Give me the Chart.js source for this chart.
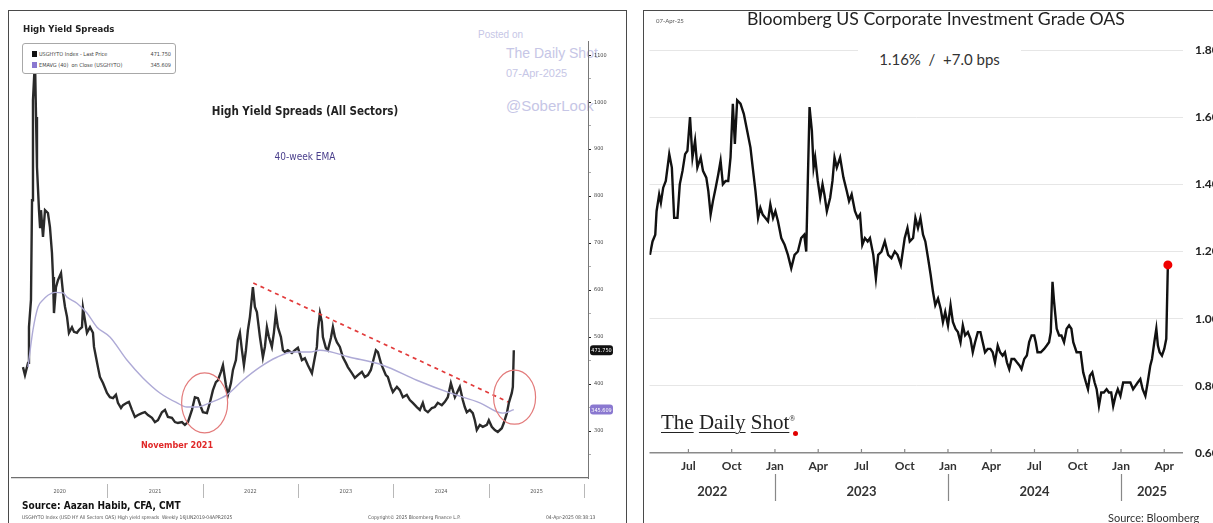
<!DOCTYPE html>
<html>
<head>
<meta charset="utf-8">
<script src="https://cdn.jsdelivr.net/npm/chart.js@4.4.1/dist/chart.umd.min.js"></script>
<style>
  html, body { margin: 0; padding: 0; background: #fff; }
  body { position: relative; width: 1213px; height: 523px; overflow: hidden; }
  .abs { position: absolute; white-space: nowrap; line-height: 1; z-index: 3; }
  .frame { position: absolute; border: 1.5px solid #4a4a4a; box-sizing: border-box; z-index: 5; }
  canvas { position: absolute; z-index: 2; }
  .bb { font-family: 'DejaVu Sans Condensed', 'DejaVu Sans', sans-serif; }
  .cal { font-family: Lato, 'Open Sans', sans-serif; }
  .wm { position: absolute; white-space: nowrap; line-height: 1; z-index: 1; color: #c6c6e6; font-family: 'Liberation Sans', Arial, sans-serif; }
  #legend { position: absolute; left: 22px; top: 43px; width: 154px; height: 31px; border: 1px solid #a8a8a8; border-radius: 3px; box-sizing: border-box; z-index: 3; background: #fff; font: 5.5px 'DejaVu Sans Condensed', 'DejaVu Sans', sans-serif; color: #444; }
  #legend .row { position: absolute; left: 9px; right: 4px; height: 7px; line-height: 7px; }
  #legend .sw { display: inline-block; width: 5px; height: 6px; vertical-align: middle; margin-right: 2px; }
  #legend .val { position: absolute; right: 0; top: 0; }
  .logo span.u { text-decoration: underline; text-decoration-thickness: 1px; text-underline-offset: 3px; }
</style>
</head>
<body>

<div class="frame" style="left:8px; top:10px; width:619px; height:540px;"></div>
<div class="frame" style="left:643px; top:10px; width:600px; height:540px;"></div>

<!-- left panel texts -->
<div class="abs bb" style="left:23px; top:24px; font-size:9.5px; font-weight:bold; color:#222;">High Yield Spreads</div>
<div id="legend">
  <div class="row" style="top:7px;"><span class="sw" style="background:#111;"></span>USGHYTO Index - Last Price<span class="val">471.750</span></div>
  <div class="row" style="top:18px;"><span class="sw" style="background:#8a78d0;"></span>EMAVG (40)&nbsp; on Close (USGHYTO)<span class="val">345.609</span></div>
</div>
<div class="abs bb" style="left:155px; width:300px; text-align:center; top:106px; font-size:11.5px; font-weight:bold; color:#222;">High Yield Spreads (All Sectors)</div>
<div class="abs bb" style="left:205px; width:200px; text-align:center; top:152px; font-size:10px; color:#4a3f8c;">40-week EMA</div>
<div class="wm" style="left:478px; top:30px; font-size:10px;">Posted on</div>
<div class="wm" style="left:506px; top:46px; font-size:14px;">The Daily Shot</div>
<div class="wm" style="left:506px; top:68px; font-size:11px;">07-Apr-2025</div>
<div class="wm" style="left:506px; top:98px; font-size:15px;">@SoberLook</div>
<div class="abs bb" style="left:22px; top:501px; font-size:10px; font-weight:bold; color:#111;">Source: Aazan Habib, CFA, CMT</div>
<div class="abs bb" style="left:22px; top:515px; font-size:5px; color:#555;">USGHYTO Index (USD HY All Sectors OAS) High yield spreads&nbsp; Weekly 16JUN2019-04APR2025</div>
<div class="abs bb" style="left:368px; top:515px; font-size:5px; color:#555;">Copyright&copy; 2025 Bloomberg Finance L.P.</div>
<div class="abs bb" style="left:546px; top:515px; font-size:5px; color:#555;">04-Apr-2025 08:38:13</div>

<!-- right panel texts -->
<div class="abs cal" style="left:656px; top:18px; font-size:6px; color:#555;">07-Apr-25</div>
<div class="abs cal" style="left:686px; width:500px; text-align:center; top:10px; font-size:17.7px; color:#222;">Bloomberg US Corporate Investment Grade OAS</div>
<div class="abs cal" style="left:858px; width:163px; top:48px; height:22px; line-height:22px; text-align:center; background:#fff; font-size:15px; color:#333;">1.16%&nbsp; /&nbsp; +7.0 bps</div>
<div class="abs logo" style="left:661px; top:412px; font-family:'Liberation Serif','DejaVu Serif',serif; font-size:21px; color:#222;"><span class="u">The</span> <span class="u">Daily</span> <span class="u">Shot</span><sup style="font-size:8px;">&reg;</sup></div>
<div class="abs" style="left:793px; top:431px; width:5px; height:5px; border-radius:50%; background:#e00000;"></div>
<div class="abs cal" style="left:1108px; top:512px; font-size:11px; color:#333;">Source: Bloomberg</div>

<canvas id="hyChart" width="614" height="511" style="left:10px; top:12px;"></canvas>
<canvas id="oasChart" width="568" height="511" style="left:645px; top:12px;"></canvas>

<script>
// ---- High yield spreads, weekly (bps), [year, value]
const hyPrice = [
  [2020.115,436],[2020.136,419],[2020.168,445],[2020.178,521],[2020.199,579],[2020.210,791],[2020.220,1004],[2020.241,1090],
  [2020.252,968],[2020.262,862],[2020.283,770],[2020.294,734],[2020.304,770],[2020.325,713],[2020.346,770],[2020.377,764],
  [2020.398,734],[2020.419,679],[2020.430,628],[2020.440,551],[2020.461,606],[2020.482,621],[2020.514,636],[2020.535,594],
  [2020.556,564],[2020.577,543],[2020.597,509],[2020.629,521],[2020.650,511],[2020.681,509],[2020.702,515],[2020.734,521],
  [2020.744,562],[2020.765,536],[2020.786,509],[2020.818,521],[2020.849,509],[2020.860,479],[2020.881,457],[2020.901,436],
  [2020.922,415],[2020.954,402],[2020.996,381],[2021.027,372],[2021.059,370],[2021.090,377],[2021.111,360],[2021.143,349],
  [2021.164,355],[2021.205,360],[2021.226,362],[2021.258,345],[2021.289,330],[2021.321,334],[2021.363,338],[2021.394,340],
  [2021.426,334],[2021.468,328],[2021.499,319],[2021.530,323],[2021.572,340],[2021.604,345],[2021.635,330],[2021.677,328],
  [2021.709,319],[2021.740,317],[2021.782,319],[2021.813,313],[2021.845,319],[2021.887,345],[2021.918,372],[2021.950,370],
  [2021.981,351],[2022.002,340],[2022.044,338],[2022.075,360],[2022.107,387],[2022.138,404],[2022.159,408],[2022.191,426],
  [2022.212,440],[2022.243,398],[2022.264,377],[2022.296,402],[2022.317,430],[2022.348,451],[2022.369,494],[2022.390,509],
  [2022.411,472],[2022.432,440],[2022.453,472],[2022.474,515],[2022.495,543],[2022.516,585],[2022.526,606],[2022.547,564],
  [2022.568,553],[2022.600,500],[2022.631,457],[2022.652,479],[2022.673,521],[2022.694,500],[2022.725,479],[2022.746,509],
  [2022.767,551],[2022.788,521],[2022.820,500],[2022.841,472],[2022.862,468],[2022.893,472],[2022.935,466],[2022.966,472],
  [2022.998,477],[2023.040,451],[2023.071,455],[2023.103,440],[2023.145,423],[2023.176,457],[2023.197,479],[2023.208,515],
  [2023.229,551],[2023.249,532],[2023.260,500],[2023.291,477],[2023.312,472],[2023.344,498],[2023.365,521],[2023.386,500],
  [2023.407,489],[2023.438,479],[2023.470,457],[2023.501,445],[2023.522,436],[2023.564,423],[2023.595,413],[2023.627,419],
  [2023.669,426],[2023.700,415],[2023.732,419],[2023.763,430],[2023.784,447],[2023.816,472],[2023.837,468],[2023.868,445],
  [2023.889,434],[2023.920,419],[2023.941,415],[2023.973,394],[2023.994,383],[2024.036,394],[2024.067,387],[2024.099,372],
  [2024.140,377],[2024.172,366],[2024.203,360],[2024.245,351],[2024.277,345],[2024.308,360],[2024.329,345],[2024.361,340],
  [2024.403,349],[2024.434,351],[2024.465,360],[2024.507,355],[2024.539,362],[2024.570,372],[2024.602,402],[2024.623,387],
  [2024.644,372],[2024.665,381],[2024.696,394],[2024.727,366],[2024.748,351],[2024.769,340],[2024.801,345],[2024.832,338],
  [2024.853,323],[2024.874,302],[2024.906,313],[2024.937,309],[2024.979,313],[2025.000,323],[2025.031,309],[2025.063,302],
  [2025.094,298],[2025.136,306],[2025.157,317],[2025.189,338],[2025.210,360],[2025.241,381],[2025.252,394],[2025.262,471.75]
];
const hyEma = [
  [2020.168,436],[2020.220,515],[2020.273,564],[2020.325,579],[2020.377,589],[2020.451,595],[2020.535,594],[2020.577,585],
  [2020.681,572],[2020.786,551],[2020.891,521],[2021.027,500],[2021.205,451],[2021.373,413],[2021.551,381],[2021.730,360],
  [2021.834,351],[2021.939,351],[2022.075,360],[2022.254,377],[2022.421,408],[2022.600,436],[2022.778,457],[2022.945,468],
  [2023.124,468],[2023.229,472],[2023.543,457],[2023.889,440],[2024.245,408],[2024.591,381],[2024.906,360],[2025.147,338],
  [2025.262,345.609]
];
const hyTrend = [[2022.53, 615], [2025.20, 362]];
const hyYearTicks = [2020.5, 2021.5, 2022.5, 2023.5, 2024.5, 2025.5];
const hyYearBounds = [2021, 2022, 2023, 2024, 2025, 2026];
const hyAxisTicks = [250, 300, 350, 400, 450, 500, 550, 600, 650, 700, 750, 800, 850, 900, 950, 1000, 1050, 1100];
const hyCircles = [[2022.02, 360], [2025.27, 372]];
const hyNote = [2021.73, 268, 'November 2021'];

// ---- Bloomberg US IG OAS (%), [months since Jan 2022, value]
const oasSeries = [
  [3.33,1.19],[3.51,1.23],[3.70,1.25],[3.79,1.32],[3.97,1.37],[4.09,1.345],[4.25,1.39],[4.43,1.41],[4.67,1.49],[4.85,1.45],
  [5.01,1.30],[5.24,1.30],[5.40,1.40],[5.59,1.44],[5.77,1.49],[5.93,1.50],[6.11,1.60],[6.28,1.48],[6.46,1.53],[6.62,1.45],
  [6.85,1.48],[7.01,1.44],[7.24,1.42],[7.38,1.38],[7.54,1.31],[7.70,1.35],[7.89,1.39],[8.07,1.43],[8.23,1.47],[8.39,1.40],
  [8.58,1.41],[8.76,1.41],[8.92,1.48],[9.08,1.64],[9.22,1.52],[9.38,1.65],[9.61,1.64],[9.84,1.61],[10.07,1.56],[10.30,1.51],
  [10.46,1.45],[10.65,1.38],[10.83,1.30],[10.99,1.33],[11.15,1.31],[11.34,1.30],[11.52,1.29],[11.68,1.34],[11.87,1.30],[12.03,1.32],
  [12.21,1.29],[12.44,1.24],[12.67,1.22],[12.90,1.19],[13.13,1.15],[13.36,1.19],[13.59,1.20],[13.82,1.24],[14.03,1.25],[14.17,1.20],
  [14.28,1.41],[14.40,1.63],[14.56,1.56],[14.68,1.45],[14.79,1.48],[14.97,1.41],[15.14,1.36],[15.30,1.40],[15.43,1.37],[15.60,1.32],
  [15.83,1.36],[15.99,1.41],[16.13,1.48],[16.29,1.45],[16.52,1.48],[16.75,1.42],[16.98,1.38],[17.14,1.35],[17.32,1.37],[17.55,1.32],
  [17.74,1.30],[17.90,1.31],[18.06,1.22],[18.24,1.24],[18.43,1.23],[18.59,1.24],[18.82,1.19],[19.00,1.12],[19.16,1.19],[19.39,1.20],
  [19.62,1.23],[19.85,1.19],[20.08,1.18],[20.31,1.20],[20.50,1.19],[20.73,1.16],[21.00,1.24],[21.19,1.27],[21.35,1.23],[21.58,1.24],
  [21.74,1.30],[21.92,1.27],[22.09,1.30],[22.27,1.25],[22.43,1.23],[22.62,1.18],[22.80,1.13],[22.96,1.08],[23.12,1.04],[23.31,1.06],
  [23.49,1.03],[23.65,0.99],[23.81,1.02],[24.00,0.98],[24.18,1.04],[24.34,0.99],[24.52,0.97],[24.69,0.96],[24.87,0.93],[25.03,0.98],
  [25.19,0.95],[25.38,0.96],[25.56,0.94],[25.72,0.90],[25.88,0.93],[26.07,0.96],[26.25,0.96],[26.41,0.93],[26.57,0.90],[26.76,0.91],
  [26.94,0.91],[27.10,0.90],[27.26,0.87],[27.45,0.92],[27.61,0.90],[27.79,0.89],[27.95,0.90],[28.09,0.87],[28.25,0.85],[28.41,0.88],
  [28.60,0.88],[28.78,0.87],[28.97,0.86],[29.10,0.85],[29.29,0.88],[29.47,0.89],[29.63,0.93],[29.80,0.95],[29.98,0.95],[30.09,0.93],
  [30.21,0.90],[30.44,0.90],[30.67,0.91],[30.85,0.92],[31.01,0.93],[31.13,0.96],[31.25,1.11],[31.36,1.05],[31.54,0.97],[31.71,0.95],
  [31.87,0.95],[32.05,0.93],[32.23,0.97],[32.40,0.98],[32.56,0.97],[32.69,0.93],[32.92,0.90],[33.20,0.90],[33.38,0.84],[33.57,0.81],
  [33.71,0.79],[33.84,0.83],[34.01,0.84],[34.17,0.81],[34.31,0.79],[34.47,0.74],[34.63,0.78],[34.81,0.78],[35.00,0.79],[35.16,0.78],
  [35.32,0.78],[35.46,0.74],[35.62,0.77],[35.78,0.79],[35.96,0.77],[36.15,0.81],[36.31,0.81],[36.47,0.81],[36.65,0.81],[36.84,0.79],
  [37.00,0.80],[37.16,0.81],[37.34,0.82],[37.50,0.79],[37.69,0.77],[37.85,0.81],[38.03,0.86],[38.15,0.88],[38.31,0.93],[38.45,0.97],
  [38.56,0.92],[38.68,0.90],[38.84,0.89],[39.00,0.91],[39.14,0.94],[39.25,1.16]
];
const oasTickMonths = [6, 9, 12, 15, 18, 21, 24, 27, 30, 33, 36, 39];
const oasTickLabels = ['Jul', 'Oct', 'Jan', 'Apr', 'Jul', 'Oct', 'Jan', 'Apr', 'Jul', 'Oct', 'Jan', 'Apr'];
const oasAxisTicks = [0.6, 0.8, 1.0, 1.2, 1.4, 1.6, 1.8];
const oasYearStarts = [0, 12, 24, 36];
const oasYearLabels = ['2022', '2023', '2024', '2025'];

const bbFont = "'DejaVu Sans Condensed', 'DejaVu Sans', sans-serif";
const calFont = "Lato, 'Open Sans', sans-serif";
const toXY = (pairs) => pairs.map(([x, y]) => ({ x, y }));

const hyDeco = {
  id: 'hyDeco',
  afterDatasetsDraw(chart) {
    const { ctx, scales: { x, y } } = chart;
    ctx.save();
    ctx.strokeStyle = '#e37b7b';
    ctx.lineWidth = 1.2;
    const sizes = [[23, 30], [21, 27]];
    hyCircles.forEach(([cx, cy], i) => {
      ctx.beginPath();
      ctx.ellipse(x.getPixelForValue(cx), y.getPixelForValue(cy), sizes[i][0], sizes[i][1], 0, 0, Math.PI * 2);
      ctx.stroke();
    });
    ctx.fillStyle = '#e02828';
    ctx.font = 'bold 9px ' + bbFont;
    ctx.textAlign = 'center';
    ctx.textBaseline = 'middle';
    ctx.fillText(hyNote[2], x.getPixelForValue(hyNote[0]), y.getPixelForValue(hyNote[1]));
    ctx.restore();
  },
  afterDraw(chart) {
    const { ctx, scales: { x, y } } = chart;
    ctx.save();
    // year separators under the axis
    ctx.strokeStyle = '#b8b8b8';
    ctx.lineWidth = 1;
    hyYearBounds.forEach((v) => {
      const px = Math.round(x.getPixelForValue(v)) + 0.5;
      ctx.beginPath();
      ctx.moveTo(px, 472);
      ctx.lineTo(px, 486);
      ctx.stroke();
    });
    // last value boxes on the axis
    const boxes = [
      [hyPrice[hyPrice.length - 1][1], '#111'],
      [hyEma[hyEma.length - 1][1], '#8a78d0'],
    ];
    ctx.font = '5.5px ' + bbFont;
    ctx.textAlign = 'center';
    ctx.textBaseline = 'middle';
    boxes.forEach(([v, col]) => {
      const py = y.getPixelForValue(v);
      const left = chart.chartArea.right + 2;
      ctx.fillStyle = col;
      ctx.beginPath();
      ctx.roundRect(left, py - 5, 23, 10, 3);
      ctx.fill();
      ctx.fillStyle = '#fff';
      ctx.fillText(v.toFixed(3), left + 11.5, py + 0.5);
    });
    ctx.restore();
  },
};

new Chart(document.getElementById('hyChart'), {
  type: 'line',
  data: {
    datasets: [
      { data: toXY(hyTrend), borderColor: '#e23b3b', borderWidth: 1.7, borderDash: [4, 4], pointRadius: 0 },
      { data: toXY(hyEma), borderColor: '#aeaad6', borderWidth: 1.4, pointRadius: 0, cubicInterpolationMode: 'monotone' },
      { data: toXY(hyPrice), borderColor: '#2a2a2a', borderWidth: 2.4, pointRadius: 0, tension: 0 },
    ],
  },
  options: {
    responsive: false,
    animation: false,
    layout: { padding: { left: 2, top: 29, right: 0, bottom: 0 } },
    plugins: { legend: { display: false }, tooltip: { enabled: false } },
    scales: {
      x: {
        type: 'linear',
        min: 2020,
        max: 2026.04,
        afterFit: (s) => { s.height = 45; },
        afterBuildTicks: (s) => { s.ticks = hyYearTicks.map((v) => ({ value: v })); },
        ticks: {
          autoSkip: false,
          maxRotation: 0,
          padding: 10,
          color: '#555',
          font: { family: bbFont, size: 5.5 },
          callback: (v) => String(Math.floor(v)),
        },
        grid: { display: false, drawTicks: false },
        border: { display: true, color: '#6f6f6f', width: 1.2, dash: [4, 2] },
      },
      y: {
        position: 'right',
        min: 200,
        max: 1130,
        afterFit: (s) => { s.width = 36; },
        afterBuildTicks: (s) => { s.ticks = hyAxisTicks.map((v) => ({ value: v })); },
        ticks: {
          autoSkip: false,
          padding: 3,
          color: '#444',
          font: { family: bbFont, size: 5.5 },
          callback: (v) => (v % 100 === 0 ? String(v) : ''),
        },
        grid: {
          drawOnChartArea: false,
          drawTicks: true,
          tickLength: 3,
          tickColor: (c) => (c.tick && c.tick.value % 100 === 0 ? '#222' : '#aaa'),
        },
        border: { display: true, color: '#777', width: 1 },
      },
    },
  },
  plugins: [hyDeco],
});

const oasDeco = {
  id: 'oasDeco',
  afterDraw(chart) {
    const { ctx, chartArea, scales: { x } } = chart;
    ctx.save();
    ctx.strokeStyle = '#888';
    ctx.lineWidth = 1.2;
    oasTickMonths.forEach((m) => {
      const px = x.getPixelForValue(m);
      ctx.beginPath();
      ctx.moveTo(px, chartArea.bottom);
      ctx.lineTo(px, chartArea.bottom - 4);
      ctx.stroke();
    });
    oasYearStarts.forEach((m) => {
      if (m <= x.min) return;
      const px = Math.round(x.getPixelForValue(m)) + 0.5;
      ctx.beginPath();
      ctx.moveTo(px, chartArea.bottom + 21);
      ctx.lineTo(px, chartArea.bottom + 48);
      ctx.stroke();
    });
    ctx.fillStyle = '#333';
    ctx.font = 'bold 13px ' + calFont;
    ctx.textAlign = 'center';
    ctx.textBaseline = 'middle';
    oasYearStarts.forEach((m, i) => {
      const a = Math.max(m, x.min);
      const b = Math.min(m + 12, x.max);
      ctx.fillText(oasYearLabels[i], x.getPixelForValue((a + b) / 2), chartArea.bottom + 39);
    });
    ctx.restore();
  },
};

const lastIdx = oasSeries.length - 1;
new Chart(document.getElementById('oasChart'), {
  type: 'line',
  data: {
    datasets: [{
      data: toXY(oasSeries),
      borderColor: '#111',
      borderWidth: 2.4,
      tension: 0,
      pointRadius: (c) => (c.dataIndex === lastIdx ? 4.5 : 0),
      pointBackgroundColor: '#f00000',
      pointBorderWidth: 0,
    }],
  },
  options: {
    responsive: false,
    animation: false,
    layout: { padding: { left: 2, top: 38, right: 0, bottom: 0 } },
    plugins: { legend: { display: false }, tooltip: { enabled: false } },
    scales: {
      x: {
        type: 'linear',
        min: 3.3,
        max: 40.3,
        afterFit: (s) => { s.height = 70; },
        afterBuildTicks: (s) => { s.ticks = oasTickMonths.map((v) => ({ value: v })); },
        ticks: {
          autoSkip: false,
          maxRotation: 0,
          padding: 6,
          color: '#333',
          font: { family: calFont, size: 12, weight: 'bold' },
          callback: (v, i) => oasTickLabels[i],
        },
        grid: { display: false, drawTicks: false },
        border: { display: false },
      },
      y: {
        position: 'right',
        min: 0.6,
        max: 1.8,
        afterFit: (s) => { s.width = 30; },
        afterBuildTicks: (s) => { s.ticks = oasAxisTicks.map((v) => ({ value: v })); },
        ticks: {
          padding: 12,
          color: '#222',
          font: { family: calFont, size: 12, weight: 'bold' },
          callback: (v) => v.toFixed(2),
        },
        grid: {
          drawTicks: false,
          color: (c) => (c.tick && c.tick.value === 0.6 ? '#8a8a8a' : '#e6e6e6'),
          lineWidth: (c) => (c.tick && c.tick.value === 0.6 ? 1.6 : 1),
        },
        border: { display: false },
      },
    },
  },
  plugins: [oasDeco],
});
</script>
</body>
</html>
